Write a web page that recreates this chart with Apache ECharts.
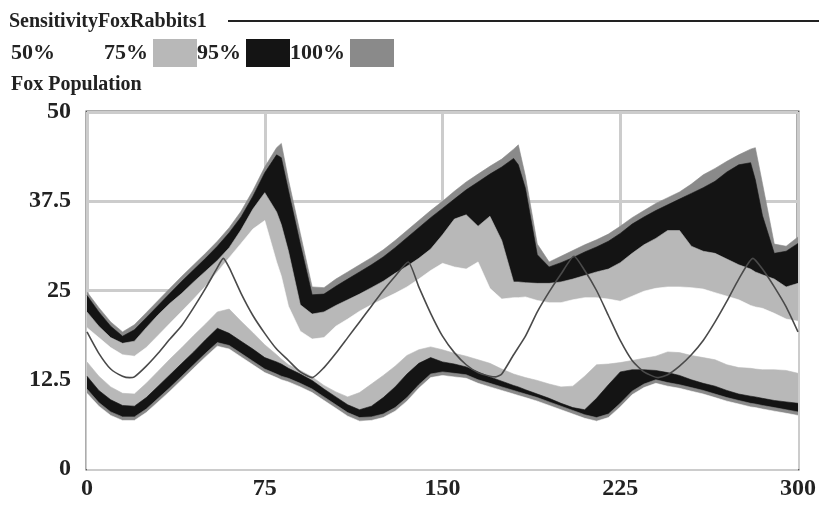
<!DOCTYPE html>
<html>
<head>
<meta charset="utf-8">
<script src="https://cdn.jsdelivr.net/npm/echarts@6/dist/echarts.min.js"></script>
<style>
  html, body { margin: 0; padding: 0; background: #fff; }
  #chart { width: 819px; height: 506px; }
</style>
</head>
<body>
<div id="chart"></div>
<script>
  // time points of the sensitivity envelopes
  var times = [0,5,10,15,20,25,30,35,40,45,50,55,60,65,70,75,80,82,
    85,90,95,100,105,110,115,120,125,130,135,140,145,150,155,160,165,170,175,180,182,
    185,190,195,200,205,210,215,220,225,230,235,240,245,250,255,260,265,270,275,280,282,
    285,290,295,300];

  // upper edges of the bands
  var upper100 = [24.8,22.6,20.6,19.2,20.2,21.9,23.6,25.3,27.0,28.6,30.2,31.9,33.8,36.1,39.0,42.3,45.0,45.6,
    40.5,33.0,25.5,25.4,26.6,27.6,28.6,29.6,30.7,32.0,33.4,34.8,36.2,37.5,38.9,40.2,41.3,42.4,43.4,44.8,45.4,
    41.0,31.5,29.0,29.8,30.6,31.4,32.1,32.9,34.0,35.2,36.2,37.2,38.0,38.8,39.9,41.2,42.1,43.1,44.0,44.8,45.0,
    40.0,31.5,31.2,32.5];
  var upper95 = [24.3,22.0,20.0,18.6,19.5,21.2,22.9,24.6,26.3,27.9,29.5,31.2,33.1,35.3,38.2,41.5,44.0,43.6,
    39.0,31.5,24.4,24.5,25.6,26.6,27.6,28.6,29.7,31.0,32.4,33.8,35.2,36.5,37.8,39.1,40.2,41.3,42.3,43.5,42.6,
    39.3,30.0,28.3,28.9,29.6,30.4,31.1,31.9,33.0,34.3,35.3,36.2,37.0,37.8,38.6,39.4,40.3,41.6,42.6,42.9,40.5,
    35.5,30.2,30.5,31.6];
  var upper75 = [22.0,20.0,18.4,17.6,17.9,19.8,21.6,23.2,24.6,26.2,27.7,29.2,31.0,33.5,36.4,38.7,36.0,34.2,
    30.5,23.0,21.7,22.0,22.9,23.7,24.5,25.4,26.3,27.4,28.4,29.5,30.8,32.8,35.0,35.6,34.0,35.4,32.0,26.2,26.2,
    26.1,26.0,26.0,26.2,26.6,27.1,27.6,28.0,28.9,30.2,31.4,32.3,33.4,33.4,31.2,30.5,30.2,29.4,28.6,28.0,27.6,
    27.2,26.6,25.5,26.0];
  var upper50 = [19.8,18.4,17.0,16.0,15.8,17.0,18.7,20.4,22.1,23.8,25.6,27.6,29.6,31.6,33.6,34.8,29.0,27.0,
    22.8,19.3,18.2,18.4,20.0,21.0,22.1,23.0,23.8,24.6,25.5,26.6,27.8,28.8,28.3,28.0,29.0,25.3,23.8,24.0,24.0,
    24.1,23.6,23.3,23.3,23.7,24.0,24.0,23.8,23.5,24.2,24.9,25.3,25.5,25.5,25.4,25.2,24.7,24.2,23.7,22.9,22.7,
    22.5,21.8,21.0,20.7];

  // lower edges of the bands
  var lower50 = [15.0,13.0,11.5,10.6,10.5,12.0,13.7,15.4,17.0,18.7,20.3,22.0,22.4,20.7,19.1,17.4,16.0,15.4,
    14.6,13.8,12.9,11.7,10.8,10.1,10.7,11.9,13.1,14.4,15.9,16.7,17.1,16.7,16.2,15.8,15.3,14.8,14.0,13.3,13.1,
    12.8,12.4,11.9,11.5,11.6,13.0,14.6,14.7,14.9,15.2,15.5,15.8,16.4,16.3,15.9,15.6,15.3,14.6,14.2,14.1,14.0,
    13.9,13.9,13.8,13.4];
  var lower75 = [13.0,11.0,9.7,8.9,8.8,10.0,11.6,13.2,14.8,16.4,18.1,19.7,19.0,17.9,16.8,15.6,15.0,14.7,
    14.1,13.3,12.4,11.2,10.1,9.0,8.3,8.8,10.0,11.5,13.3,14.8,15.6,15.0,14.7,14.3,13.6,12.9,12.3,11.7,11.5,
    11.1,10.5,9.9,9.2,8.6,8.3,9.9,11.8,13.6,13.9,13.9,13.8,13.5,13.1,12.5,12.0,11.6,11.0,10.5,10.2,10.1,
    9.9,9.6,9.4,9.2];
  var lower95 = [11.2,9.3,8.0,7.3,7.3,8.4,9.9,11.4,13.0,14.6,16.2,17.7,17.3,16.2,15.1,14.0,13.3,13.0,
    12.7,12.0,11.2,10.1,9.0,7.9,7.2,7.3,7.7,8.6,10.0,11.8,13.3,13.6,13.4,13.2,12.5,12.0,11.5,11.0,10.8,
    10.5,10.0,9.4,8.8,8.2,7.6,7.2,7.7,9.2,10.9,11.9,12.5,12.1,11.8,11.4,11.0,10.5,10.0,9.6,9.2,9.1,
    8.9,8.6,8.3,8.0];
  var lower100 = [10.6,8.8,7.5,6.8,6.8,7.9,9.4,10.9,12.5,14.1,15.7,17.2,16.8,15.7,14.6,13.5,12.8,12.5,
    12.2,11.5,10.7,9.6,8.5,7.4,6.7,6.8,7.2,8.1,9.5,11.3,12.8,13.1,12.9,12.7,12.0,11.5,11.0,10.5,10.3,
    10.0,9.5,8.9,8.3,7.7,7.1,6.7,7.2,8.7,10.4,11.4,12.0,11.6,11.3,10.9,10.5,10.0,9.5,9.1,8.7,8.6,
    8.4,8.1,7.8,7.5];

  // the single base run drawn as a thin line
  var runTime = [0,5,10,15,18,20,25,30,35,40,45,50,55,57.5,60,65,70,75,80,85,90,95,
    100,105,110,115,120,125,130,135.5,140,145,150,155,160,165,170,172.5,175,180,185,190,195,200,205.5,
    210,215,220,225,230,235,241,245,250,255,260,265,270,275,281,285,290,295,300];
  var runValue = [19.2,16.2,14.0,13.0,12.8,12.9,14.4,16.2,18.2,20.1,22.6,25.3,28.2,29.5,28.2,24.6,21.5,19.0,16.8,15.2,13.6,12.8,
    14.2,16.2,18.4,20.6,22.8,25.0,27.0,29.0,25.5,21.8,18.6,16.3,14.6,13.5,13.0,12.9,13.3,16.0,18.6,22.0,24.8,27.3,29.8,
    27.8,25.0,21.5,18.0,15.2,13.6,12.8,13.2,14.4,16.0,18.0,20.6,23.5,26.6,29.5,28.0,25.5,22.7,19.2];

  var xTicks = [0, 75, 150, 225, 300];
  var yTicks = [0, 12.5, 25, 37.5, 50];

  var LIGHT = '#b8b8b8', DARK = '#141414', MID = '#8a8a8a', WHITE = '#ffffff';
  var serif = '"Liberation Serif", "DejaVu Serif", serif';

  // each edge is filled down to the axis, top edge first, so the later
  // (lower) edges paint over and leave the bands between them
  var layers = [
    { name: '100%', edge: upper100, color: MID },
    { name: '95%',  edge: upper95,  color: DARK },
    { name: '75%',  edge: upper75,  color: LIGHT },
    { name: '50%',  edge: upper50,  color: WHITE },
    { name: '75%',  edge: lower50,  color: LIGHT },
    { name: '95%',  edge: lower75,  color: DARK },
    { name: '100%', edge: lower95,  color: MID },
    { name: 'floor', edge: lower100, color: WHITE }
  ];

  var series = layers.map(function (l) {
    return {
      name: l.name,
      type: 'line',
      showSymbol: false,
      silent: true,
      color: l.color,
      itemStyle: { color: l.color },
      lineStyle: { width: 0.6, color: l.color },
      areaStyle: { color: l.color, opacity: 1, origin: 'start' },
      data: times.map(function (t, i) { return [t, l.edge[i]]; })
    };
  });
  series.push({
    name: 'run',
    type: 'line',
    z: 5,
    showSymbol: false,
    silent: true,
    smooth: 0.2,
    lineStyle: { width: 1.6, color: '#4a4a4a' },
    data: runTime.map(function (t, i) { return [t, runValue[i]]; })
  });

  var chart = echarts.init(document.getElementById('chart'));
  chart.setOption({
    animation: false,
    backgroundColor: '#fff',
    graphic: [
      { type: 'text', left: 9, top: 12,
        style: { text: 'SensitivityFoxRabbits1', font: 'bold 20px ' + serif, fill: '#222' } },
      { type: 'line', shape: { x1: 228, y1: 21, x2: 819, y2: 21 },
        style: { stroke: '#222', lineWidth: 2 } },
      { type: 'text', left: 11, top: 75,
        style: { text: 'Fox Population', font: 'bold 20px ' + serif, fill: '#222' } }
    ],
    legend: {
      left: 6,
      top: 34,
      align: 'right',
      icon: 'rect',
      itemWidth: 44,
      itemHeight: 28,
      itemGap: 0,
      selectedMode: false,
      textStyle: { fontFamily: serif, fontWeight: 'bold', fontSize: 22, color: '#222' },
      data: [
        { name: '50%', itemStyle: { color: 'rgba(255,255,255,0)' } },
        { name: '75%', itemStyle: { color: LIGHT } },
        { name: '95%', itemStyle: { color: DARK } },
        { name: '100%', itemStyle: { color: MID } }
      ]
    },
    grid: {
      left: 87, right: 17, top: 112, bottom: 37,
      show: true, z: 3,
      borderColor: '#5a5a5a', borderWidth: 3,
      backgroundColor: 'rgba(0,0,0,0)'
    },
    xAxis: {
      type: 'value',
      z: 3,
      min: xTicks[0],
      max: xTicks[xTicks.length - 1],
      interval: xTicks[1] - xTicks[0],
      axisLine: { show: false },
      axisTick: { show: false },
      axisLabel: { margin: 8, fontFamily: serif, fontWeight: 'bold', fontSize: 24, color: '#222' },
      splitLine: { show: true, lineStyle: { color: '#cccccc', width: 3 } }
    },
    yAxis: {
      type: 'value',
      z: 3,
      min: yTicks[0],
      max: yTicks[yTicks.length - 1],
      interval: yTicks[1] - yTicks[0],
      axisLine: { show: false },
      axisTick: { show: false },
      axisLabel: { margin: 16, fontFamily: serif, fontWeight: 'bold', fontSize: 24, color: '#222' },
      splitLine: { show: true, lineStyle: { color: '#cccccc', width: 3 } }
    },
    series: series
  });
</script>
</body>
</html>
